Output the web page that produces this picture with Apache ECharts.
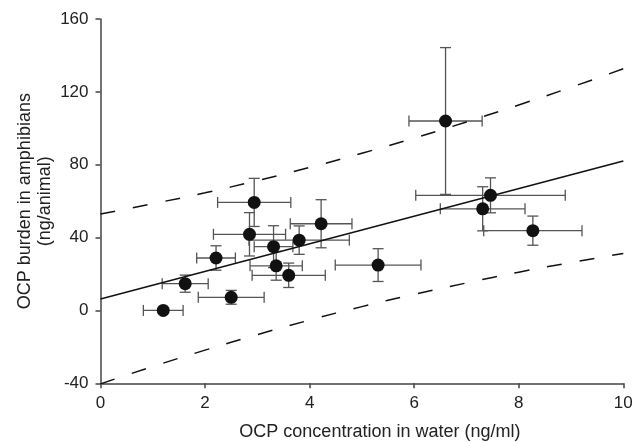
<!DOCTYPE html>
<html>
<head>
<meta charset="utf-8">
<script src="https://cdn.jsdelivr.net/npm/echarts@6/dist/echarts.min.js"></script>
<style>
  html, body { margin: 0; padding: 0; background: #fff; }
  #chart { width: 633px; height: 442px; }
</style>
</head>
<body>
<div id="chart"></div>
<script>
// points: mean, and half-width of the error bars
var waterConc = [1.20, 1.62, 2.50, 2.21, 2.94, 2.85, 3.31, 3.36, 3.60, 3.80, 4.22, 5.31, 6.60, 7.46, 7.31, 8.27];
var burden    = [0.0, 14.7, 7.2, 28.8, 59.3, 41.8, 35.0, 24.5, 19.3, 38.6, 47.6, 24.9, 104.0, 63.2, 55.8, 43.8];
var waterErr  = [0.38, 0.44, 0.63, 0.37, 0.70, 0.69, 0.37, 0.50, 0.70, 0.96, 0.59, 0.82, 0.70, 1.43, 0.81, 0.94];
var burdenErr = [0, 4.7, 3.8, 6.7, 13.2, 11.9, 11.5, 7.9, 6.7, 7.8, 13.2, 9.0, 40.3, 9.6, 12.1, 8.0];

// regression line and prediction band
var fitX = [0, 10];
var fitY = [6.3, 82.0];
var bandX = [0, 1, 2, 3, 4, 5, 6, 7, 8, 9, 10];
var bandUpper = [52.9, 58.6, 64.6, 71.3, 78.5, 86.3, 94.6, 103.5, 112.8, 122.5, 132.7];
var bandLower = [-40.3, -30.8, -21.8, -13.3, -5.3, 2.1, 8.8, 15.1, 21.0, 26.3, 31.3];

var xTicks = [0, 2, 4, 6, 8, 10];
var yTicks = [-40, 0, 40, 80, 120, 160];

var font = "'Liberation Sans', Arial, sans-serif";

var points = [];
for (var i = 0; i < waterConc.length; i++) {
  points.push([waterConc[i], burden[i], waterErr[i], burdenErr[i]]);
}
function pairs(xs, ys) {
  var out = [];
  for (var i = 0; i < xs.length; i++) out.push([xs[i], ys[i]]);
  return out;
}

function renderErr(params, api) {
  var x = api.value(0), y = api.value(1), xe = api.value(2), ye = api.value(3);
  var l = api.coord([x - xe, y]);
  var r = api.coord([x + xe, y]);
  var t = api.coord([x, y + ye]);
  var b = api.coord([x, y - ye]);
  var cap = 5.5;
  var st = { stroke: '#555', lineWidth: 1.3 };
  var kids = [
    { type: 'line', shape: { x1: l[0], y1: l[1], x2: r[0], y2: r[1] }, style: st },
    { type: 'line', shape: { x1: l[0], y1: l[1] - cap, x2: l[0], y2: l[1] + cap }, style: st },
    { type: 'line', shape: { x1: r[0], y1: r[1] - cap, x2: r[0], y2: r[1] + cap }, style: st }
  ];
  if (ye > 0) {
    kids.push(
      { type: 'line', shape: { x1: t[0], y1: t[1], x2: b[0], y2: b[1] }, style: st },
      { type: 'line', shape: { x1: t[0] - cap, y1: t[1], x2: t[0] + cap, y2: t[1] }, style: st },
      { type: 'line', shape: { x1: b[0] - cap, y1: b[1], x2: b[0] + cap, y2: b[1] }, style: st }
    );
  }
  return { type: 'group', children: kids };
}

var chart = echarts.init(document.getElementById('chart'));
var option = {
  animation: false,
  backgroundColor: '#fff',
  grid: { left: 100.5, right: 9.7, top: 19, bottom: 58.7, outerBoundsMode: 'none' },
  xAxis: {
    type: 'value',
    min: 0, max: 10, interval: 2,
    name: 'OCP concentration in water (ng/ml)',
    nameLocation: 'middle',
    nameGap: 40,
    nameMoveOverlap: false,
    nameTextStyle: { fontFamily: font, fontSize: 18, color: '#222', padding: [0, 0, 0, 36] },
    axisLine: { onZero: false, lineStyle: { color: '#444', width: 1.5 } },
    axisTick: { inside: false, length: 5, lineStyle: { color: '#444', width: 1.5 } },
    axisLabel: { fontFamily: font, fontSize: 17, color: '#222', margin: 12,
      formatter: function (v) { return xTicks.indexOf(v) >= 0 ? String(v) : ''; } },
    splitLine: { show: false }
  },
  yAxis: {
    type: 'value',
    min: -40, max: 160, interval: 40,
    name: 'OCP burden in amphibians\n(ng/animal)',
    nameLocation: 'middle',
    nameGap: 45,
    nameMoveOverlap: false,
    nameTextStyle: { fontFamily: font, fontSize: 18, color: '#222', lineHeight: 20 },
    axisLine: { show: true, lineStyle: { color: '#444', width: 1.5 } },
    axisTick: { inside: false, length: 5, lineStyle: { color: '#444', width: 1.5 } },
    axisLabel: { fontFamily: font, fontSize: 17, color: '#222', margin: 12,
      formatter: function (v) { return yTicks.indexOf(v) >= 0 ? String(v) : ''; } },
    splitLine: { show: false }
  },
  series: [
    {
      type: 'line', data: pairs(bandX, bandUpper), smooth: true, symbol: 'none', clip: true,
      lineStyle: { color: '#111', width: 1.5, type: [15, 18] }
    },
    {
      type: 'line', data: pairs(bandX, bandLower), smooth: true, symbol: 'none', clip: true,
      lineStyle: { color: '#111', width: 1.5, type: [15, 18] }
    },
    {
      type: 'line', data: pairs(fitX, fitY), symbol: 'none', clip: true,
      lineStyle: { color: '#111', width: 1.5 }
    },
    {
      type: 'custom', renderItem: renderErr, data: points, z: 3,
      encode: { x: 0, y: 1 }
    },
    {
      type: 'scatter', data: points, symbolSize: 13, z: 4,
      encode: { x: 0, y: 1 },
      itemStyle: { color: '#111', opacity: 1 }
    }
  ]
};
chart.setOption(option);
</script>
</body>
</html>
